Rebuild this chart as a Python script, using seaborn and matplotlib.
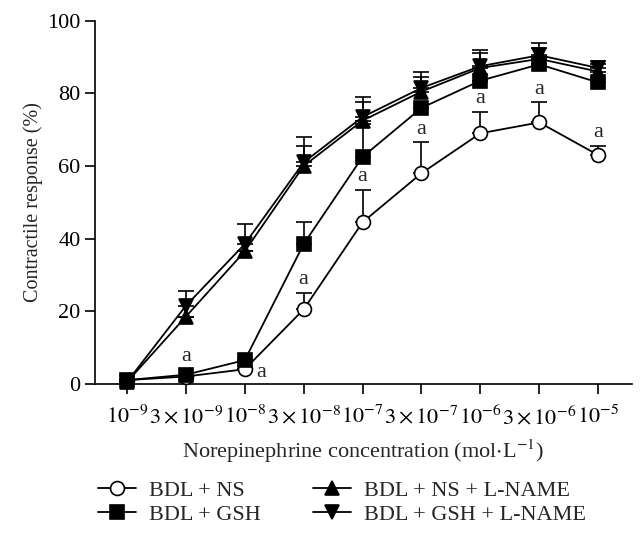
import numpy as np
import pandas as pd
import seaborn as sns
import matplotlib
matplotlib.use("Agg")
import matplotlib.pyplot as plt
from matplotlib.lines import Line2D

sns.set_theme(style="ticks")
plt.rcParams['font.family'] = ['Liberation Serif', 'DejaVu Serif']
plt.rcParams['mathtext.fontset'] = 'stix'

conc_labels = [r"$10^{-9}$", r"$3\times10^{-9}$", r"$10^{-8}$", r"$3\times10^{-8}$",
               r"$10^{-7}$", r"$3\times10^{-7}$", r"$10^{-6}$", r"$3\times10^{-6}$", r"$10^{-5}$"]
series_names = ["BDL + NS", "BDL + GSH", "BDL + NS + L-NAME", "BDL + GSH + L-NAME"]
ns_vals = [1, 2, 4, 20.5, 44.5, 58, 69, 72, 63]
ns_err = [0, 0, 0, 4.5, 9, 8.5, 6, 5.5, 2.5]
gsh_vals = [1, 2.5, 6.5, 38.5, 62.5, 76, 83.5, 88, 83]
gsh_err = [0, 0, 0, 6, 9, 0, 0, 0, 0]
nsl_vals = [0.5, 18.5, 36.5, 60, 72.5, 80.5, 87, 89.5, 86]
nsl_err = [0, 0, 0, 5.5, 5, 4, 4, 3, 2]
gshl_vals = [0.5, 21.5, 38.5, 61, 73.5, 81.5, 87.5, 90.5, 87]
gshl_err = [0, 4, 5.5, 7, 5.5, 4.5, 4.5, 3.5, 2]
# significance marks "a" above BDL + NS at these positions
ns_sig = [3, 4, 5, 6, 7, 8]

x = np.arange(len(conc_labels))
data = [(ns_vals, ns_err, 'o', 'white'), (gsh_vals, gsh_err, 's', 'black'),
        (nsl_vals, nsl_err, '^', 'black'), (gshl_vals, gshl_err, 'v', 'black')]

fig = plt.figure(figsize=(6.42, 5.33), dpi=100)
ax = fig.add_axes([0.148, 0.280, 0.836, 0.681])

for (vals, err, mk, fc), name in zip(data, series_names):
    df = pd.DataFrame({"x": x, "y": vals})
    ax.errorbar(x, vals, yerr=[np.zeros(len(err)), err], fmt='none', ecolor='black',
                elinewidth=1.2, capsize=6, capthick=1.2, zorder=2, clip_on=False)
    sns.lineplot(data=df, x="x", y="y", ax=ax, color='black', lw=1.3, marker=mk,
                 markersize=10 if mk != 's' else 9.5, markerfacecolor=fc,
                 markeredgecolor='black', markeredgewidth=1.2, zorder=3, clip_on=False)

for i in ns_sig:
    ax.text(x[i], ns_vals[i] + ns_err[i] + 1.0, "a", ha='center', va='bottom', fontsize=16)
ax.text(x[1], gsh_vals[1] + 2.5, "a", ha='center', va='bottom', fontsize=16)
ax.text(x[2] + 0.2, ns_vals[2] - 1, "a", ha='left', va='center', fontsize=16)

ax.set_xlim(-0.543, 8.57)
ax.set_ylim(0, 100)
ax.set_xticks(x)
ax.set_xticklabels(conc_labels, fontsize=16)
ax.set_yticks([0, 20, 40, 60, 80, 100])
ax.tick_params(axis='both', direction='out', length=7, width=1.2, colors='black', labelsize=16)
ax.tick_params(axis='x', pad=9)
for s in ['top', 'right']:
    ax.spines[s].set_visible(False)
for s in ['left', 'bottom']:
    ax.spines[s].set_linewidth(1.2)
    ax.spines[s].set_color('black')
ax.set_xlabel(r"Norepinephrine concentration (mol$\cdot$L$^{-1}$)", fontsize=16, labelpad=6)
ax.set_ylabel("Contractile response (%)", fontsize=14.5, labelpad=3)

handles = [Line2D([], [], color='black', lw=1.3, marker=mk, markersize=10, markerfacecolor=fc,
                  markeredgecolor='black', markeredgewidth=1.2) for (_, _, mk, fc) in data]
fig.legend(handles, series_names, loc='upper left',
           bbox_to_anchor=(0.139, 0.115), ncol=2, frameon=False, fontsize=16,
           handlelength=1.7, columnspacing=2.35, labelspacing=0.15, handletextpad=0.6,
           borderaxespad=0)
fig.savefig("out.png", dpi=100)
